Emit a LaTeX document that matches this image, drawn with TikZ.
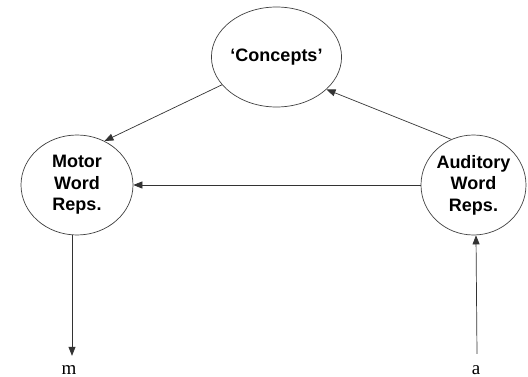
\documentclass[tikz,border=0pt]{standalone}
\usepackage{fontspec}
\setmainfont{Liberation Serif}
\setsansfont{Liberation Sans}
\usetikzlibrary{shapes.geometric}
\usetikzlibrary{arrows.meta}

\begin{document}
\begin{tikzpicture}[>={Triangle[length=9pt,width=7pt]},x=1pt,y=-1pt,
        rep/.style={draw=black!75,line width=0.7pt,ellipse,minimum height=100pt,
            align=center,font=\sffamily\bfseries\fontsize{18}{21.5}\selectfont,inner sep=0pt},
        link/.style={->,draw=black!80,line width=0.7pt},
        sym/.style={font=\fontsize{19}{22}\selectfont,inner sep=1pt}]
            \useasboundingbox (0,0) rectangle (528,377);
            % the three circles
            \node[rep,minimum width=111pt] (concepts) at (276.5,57) {`Concepts'};
            \node[rep,minimum width=112pt] (motor) at (77,185) {Motor\\Word\\Reps.};
            \node[rep,minimum width=105pt] (auditory) at (473.5,185) {Auditory\\Word\\Reps.};
            % input and output letters
            \node[sym,anchor=base] (m) at (69,374) {m};
            \node[sym,anchor=base] (a) at (476,374) {a};
            % connections
            \draw[link] (concepts.207) -- (motor.58);
            \draw[link] (auditory.116) -- (concepts.327);
            \draw[link] (auditory.west) -- (motor.east);
            \draw[link] (motor.south -| 72,0) -- ([xshift=3pt,yshift=8pt]m.north);
            \draw[link] ([xshift=1pt,yshift=10pt]a.north) -- (auditory.south -| a);
        \end{tikzpicture}
\end{document}
